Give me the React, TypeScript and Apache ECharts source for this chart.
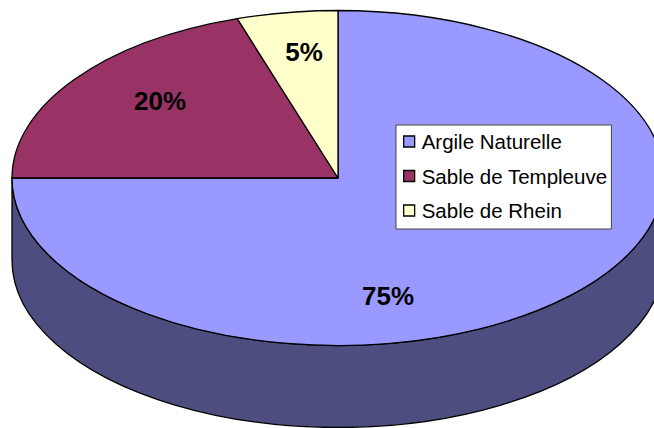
import React, { useEffect, useRef } from "react";
import * as echarts from "echarts";

const categories = ["Argile Naturelle", "Sable de Templeuve", "Sable de Rhein"];
const values = [75, 20, 5];
const topColors = ["#9999FF", "#993366", "#FFFFCC"];
const rimColors = ["#4D4D80", "#4D1A33", "#808066"];
const labelCenters = [
  [388, 296],
  [160, 101],
  [304, 52],
];

const CX = 338;
const CY = 178;
const RX = 326;
const RY = 167.5;
const DEPTH = 82;
const total = values.reduce((a, b) => a + b, 0);

const pt = (deg: number, dy = 0) => {
  const a = (deg * Math.PI) / 180;
  return [CX + RX * Math.sin(a), CY + dy - RY * Math.cos(a)];
};

const arcTo = (from: number, to: number, dy: number) => {
  // Split long arcs so each SVG arc command stays unambiguous.
  const steps = Math.max(1, Math.ceil(Math.abs(to - from) / 60));
  let d = "";
  for (let i = 1; i <= steps; i++) {
    const [x, y] = pt(from + ((to - from) * i) / steps, dy);
    d += `A${RX} ${RY} 0 0 ${to > from ? 1 : 0} ${x} ${y} `;
  }
  return d;
};

const makeRenderItem = (idx: number) => () => {
  const startVal = values.slice(0, idx).reduce((a, b) => a + b, 0);
  const a0 = (startVal / total) * 360;
  const a1 = ((startVal + values[idx]) / total) * 360;
  const children: any[] = [];
  const stroke = { stroke: "#000", lineWidth: 1.3, lineJoin: "round" };

  const r0 = Math.max(a0, 90);
  const r1 = Math.min(a1, 270);
  if (r1 > r0) {
    const [sx, sy] = pt(r0);
    const [bx, by] = pt(r1, DEPTH);
    const d =
      `M${sx} ${sy} ` + arcTo(r0, r1, 0) + `L${bx} ${by} ` + arcTo(r1, r0, DEPTH) + "Z";
    children.push({
      type: "path",
      shape: { pathData: d },
      style: { fill: rimColors[idx], ...stroke },
    });
  }

  const [tx, ty] = pt(a0);
  const top = `M${CX} ${CY} L${tx} ${ty} ` + arcTo(a0, a1, 0) + "Z";
  children.push({
    type: "path",
    shape: { pathData: top },
    style: { fill: topColors[idx], ...stroke },
  });
  children.push({
    type: "text",
    z2: 10,
    style: {
      x: labelCenters[idx][0],
      y: labelCenters[idx][1],
      text: `${values[idx]}%`,
      fill: "#000",
      font: 'bold 26px "Liberation Sans", Arial, sans-serif',
      align: "center",
      verticalAlign: "middle",
    },
  });
  return { type: "group", children };
};

export default function App() {
  const ref = useRef<HTMLDivElement>(null);
  useEffect(() => {
    const chart = echarts.init(ref.current!, undefined, { renderer: "svg" });
    chart.setOption({
      animation: false,
      backgroundColor: "#fff",
      legend: {
        show: true,
        orient: "vertical",
        left: 396,
        top: 125,
        data: categories,
        icon: "rect",
        itemWidth: 11,
        itemHeight: 11,
        itemGap: 13.5,
        padding: [6, 4, 8, 7],
        backgroundColor: "#fff",
        borderColor: "#444",
        borderWidth: 1,
        selectedMode: false,
        itemStyle: { borderColor: "#000", borderWidth: 1.3 },
        textStyle: {
          color: "#000",
          fontFamily: '"Liberation Sans", Arial, sans-serif',
          fontSize: 20.5,
          padding: [0, 0, 0, 2],
          lineHeight: 20,
        },
      },
      series: categories.map((name, i) => ({
        type: "custom",
        name,
        coordinateSystem: "none",
        silent: true,
        clip: false,
        itemStyle: { color: topColors[i] },
        data: [values[i]],
        renderItem: makeRenderItem(i),
      })),
    });
    return () => chart.dispose();
  }, []);
  return (
    <div
      ref={ref}
      style={{ position: "fixed", left: 0, top: 0, width: 654, height: 428 }}
    />
  );
}
